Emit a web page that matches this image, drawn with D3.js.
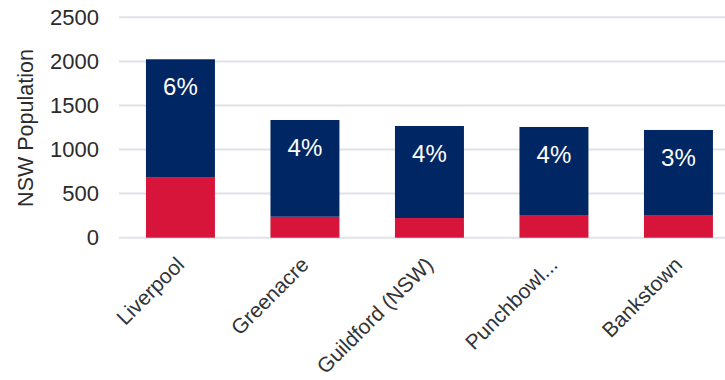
<!DOCTYPE html>
<html>
<head>
<meta charset="utf-8">
<script src="https://cdn.jsdelivr.net/npm/d3@7"></script>
<style>
  html, body { margin: 0; padding: 0; background: #fff; }
  svg { display: block; }
</style>
</head>
<body>
<svg id="chart" width="725" height="380"></svg>
<script>
const categories = ["Liverpool", "Greenacre", "Guildford (NSW)", "Punchbowl...", "Bankstown"];
const redValues  = [681, 238, 223, 257, 257];
const navyValues = [1343, 1097, 1044, 999, 965];
const pctLabels  = ["6%", "4%", "4%", "4%", "3%"];
const yTicks     = [0, 500, 1000, 1500, 2000, 2500];
const yTitle     = "NSW Population";

const W = 725, H = 380;
const svg = d3.select("#chart");

const x = d3.scaleBand()
  .domain(categories)
  .range([118.2, 740.7])
  .paddingInner(0.446)
  .paddingOuter(0.223);

const y = d3.scaleLinear().domain([0, 2500]).range([237.7, 17.3]);

const rows = categories.map((c, i) => ({ cat: c, red: redValues[i], navy: navyValues[i], pct: pctLabels[i] }));
const stack = d3.stack().keys(["red", "navy"]);
const series = stack(rows);
const colors = { red: "#d7153a", navy: "#002664" };
const FONT = "'Liberation Sans', Arial, Helvetica, sans-serif";

// gridlines
svg.append("g")
  .selectAll("line")
  .data(yTicks)
  .join("line")
  .attr("x1", 119).attr("x2", W)
  .attr("y1", d => y(d)).attr("y2", d => y(d))
  .attr("stroke", "#dfe2e7")
  .attr("stroke-width", 2);

// y axis labels
const yAxis = d3.axisLeft(y).tickValues(yTicks).tickFormat(d3.format("d")).tickSize(0).tickPadding(0);
const yg = svg.append("g").attr("transform", "translate(99,0)").call(yAxis);
yg.select(".domain").remove();
yg.selectAll("text")
  .attr("font-family", FONT)
  .attr("font-size", 22)
  .attr("fill", "#2b2b2b");

// y title
svg.append("text")
  .attr("transform", "translate(33,128) rotate(-90)")
  .attr("text-anchor", "middle")
  .attr("font-family", FONT)
  .attr("font-size", 21.5)
  .attr("fill", "#2b2b2b")
  .text(yTitle);

// bars
svg.append("g")
  .selectAll("g")
  .data(series)
  .join("g")
  .attr("fill", d => colors[d.key])
  .selectAll("rect")
  .data(d => d)
  .join("rect")
  .attr("x", d => x(d.data.cat))
  .attr("width", x.bandwidth())
  .attr("y", d => y(d[1]))
  .attr("height", d => y(d[0]) - y(d[1]));

// pct labels
svg.append("g")
  .selectAll("text")
  .data(rows)
  .join("text")
  .attr("x", d => x(d.cat) + x.bandwidth() / 2)
  .attr("y", d => y(d.red + d.navy) + 36)
  .attr("text-anchor", "middle")
  .attr("font-family", FONT)
  .attr("font-size", 24)
  .attr("fill", "#ffffff")
  .text(d => d.pct);

// x axis labels
const xAxis = d3.axisBottom(x).tickSize(0).tickPadding(0);
const xg = svg.append("g").attr("transform", "translate(0,238)").call(xAxis);
xg.select(".domain").remove();
xg.selectAll(".tick text")
  .attr("font-family", FONT)
  .attr("font-size", 21)
  .attr("fill", "#333333")
  .attr("text-anchor", "end")
  .attr("dy", null)
  .attr("y", null)
  .attr("transform", "translate(5,28) rotate(-45)");
</script>
</body>
</html>
